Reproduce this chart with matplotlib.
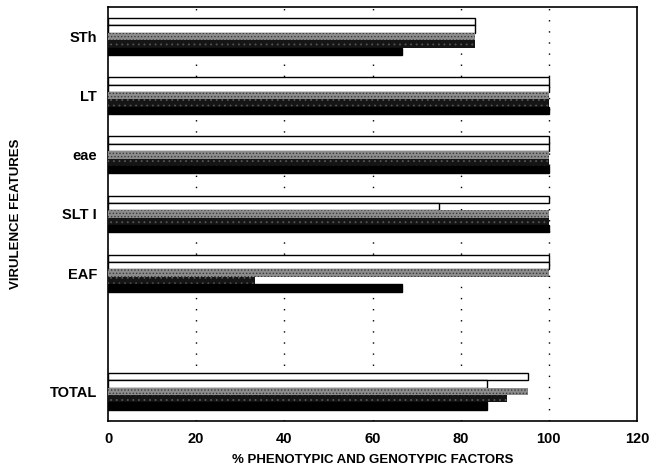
import matplotlib
matplotlib.use("Agg")
from matplotlib import pyplot as plt
import numpy as np

# virulence features, top to bottom (blank slot between EAF and TOTAL)
categories = ["STh", "LT", "eae", "SLT I", "EAF", "TOTAL"]
positions = [6, 5, 4, 3, 2, 0]

# five bars per feature, top to bottom
serie1 = [83.3, 100, 100, 100, 100, 95.2]
serie2 = [83.3, 100, 100, 75, 100, 86.0]
serie3 = [83.3, 100, 100, 100, 100, 95.2]
serie4 = [83.3, 100, 100, 100, 33.3, 90.5]
serie5 = [66.7, 100, 100, 100, 66.7, 86.0]

plt.rcParams["font.family"] = ["Liberation Sans", "DejaVu Sans"]
plt.rcParams["hatch.linewidth"] = 0.6

fig = plt.figure(figsize=(6.57, 4.71), dpi=100)
ax = fig.add_axes([0.1644, 0.1062, 0.8052, 0.8789])

h = 0.125
pos = np.array(positions, dtype=float)
# style: facecolor, edgecolor, hatch
stiller = [
    ("white", "black", None),
    ("white", "black", None),
    ("#8c8c8c", "#3a3a3a", "....."),
    ("#151515", "#555555", "..."),
    ("black", "black", None),
]
seriler = [serie1, serie2, serie3, serie4, serie5]
for i, (vals, (fc, ec, ht)) in enumerate(zip(seriler, stiller)):
    y = pos + (2 - i) * h
    if ht is None:
        ax.barh(y, vals, height=h, color=fc, edgecolor=ec, linewidth=1.0, zorder=3)
    else:
        ax.barh(y, vals, height=h, color=fc, edgecolor=ec, hatch=ht, linewidth=0, zorder=3)

# dotted grid lines
for gx in [20, 40, 60, 80, 100]:
    ax.axvline(gx, color="black", linestyle=(0, (1, 7)), linewidth=1.0, zorder=1)

ax.set_xlim(0, 120)
ax.set_ylim(-0.5, 6.5)
ax.set_xticks([0, 20, 40, 60, 80, 100, 120])
ax.set_yticks(positions)
ax.set_yticklabels(categories)
ax.tick_params(axis="both", length=0, labelsize=10.5, pad=8)
for lab in ax.get_xticklabels() + ax.get_yticklabels():
    lab.set_fontweight("bold")
for sp in ax.spines.values():
    sp.set_linewidth(1.2)

ax.set_xlabel("% PHENOTYPIC AND GENOTYPIC FACTORS", fontsize=9.5, fontweight="bold", labelpad=6)
ax.set_ylabel("VIRULENCE FEATURES", fontsize=9.5, fontweight="bold", labelpad=20)

fig.savefig("out.png", dpi=100)
